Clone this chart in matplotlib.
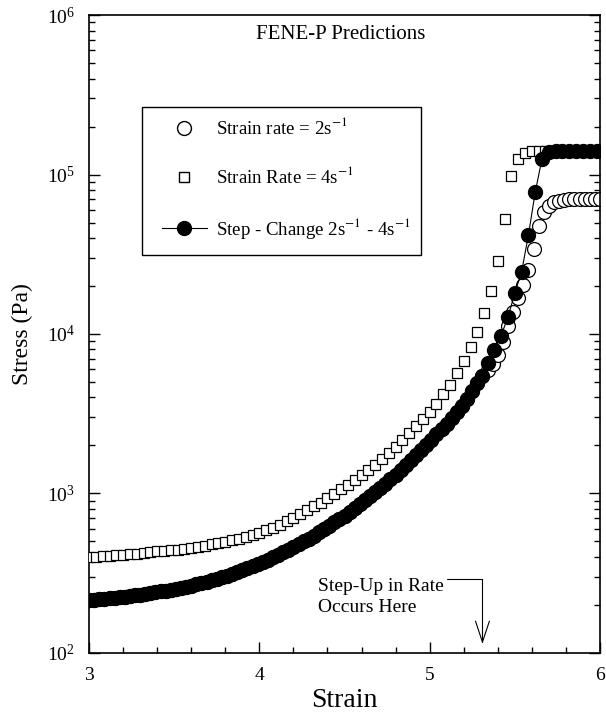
import numpy as np
import matplotlib
matplotlib.use('Agg')
import matplotlib.pyplot as plt
import matplotlib.ticker as ticker
from matplotlib.lines import Line2D
from matplotlib.patches import Rectangle

plt.rcParams['font.family'] = ['Liberation Serif', 'DejaVu Serif']
plt.rcParams['mathtext.fontset'] = 'stix'

# strain rate = 2 1/s (open circles)
strain_2 = [3.00, 3.03, 3.06, 3.09, 3.12, 3.15, 3.18, 3.21, 3.24, 3.27,
            3.30, 3.33, 3.36, 3.39, 3.42, 3.45, 3.48, 3.51, 3.54, 3.57,
            3.60, 3.63, 3.66, 3.69, 3.72, 3.75, 3.78, 3.81, 3.84, 3.87,
            3.90, 3.93, 3.96, 3.99, 4.02, 4.05, 4.08, 4.11, 4.14, 4.17,
            4.20, 4.23, 4.26, 4.29, 4.32, 4.35, 4.38, 4.41, 4.44, 4.47,
            4.50, 4.53, 4.56, 4.59, 4.62, 4.65, 4.68, 4.71, 4.74, 4.77,
            4.80, 4.83, 4.86, 4.89, 4.92, 4.95, 4.98, 5.01, 5.04, 5.07,
            5.10, 5.13, 5.16, 5.19, 5.22, 5.25, 5.28, 5.31, 5.34, 5.37,
            5.40, 5.43, 5.46, 5.49, 5.52, 5.55, 5.58, 5.61, 5.64, 5.67,
            5.70, 5.73, 5.76, 5.79, 5.82, 5.85, 5.88, 5.91, 5.94, 5.97,
            6.00]
log_stress_2 = [2.330, 2.333, 2.335, 2.338, 2.341, 2.344, 2.348, 2.351, 2.356, 2.360,
                2.364, 2.369, 2.374, 2.379, 2.385, 2.390, 2.396, 2.402, 2.409, 2.415,
                2.422, 2.430, 2.438, 2.446, 2.455, 2.465, 2.475, 2.485, 2.496, 2.508,
                2.519, 2.532, 2.544, 2.557, 2.571, 2.585, 2.599, 2.614, 2.631, 2.647,
                2.663, 2.681, 2.699, 2.717, 2.736, 2.756, 2.776, 2.796, 2.818, 2.839,
                2.861, 2.885, 2.909, 2.932, 2.957, 2.983, 3.008, 3.034, 3.062, 3.090,
                3.118, 3.148, 3.177, 3.207, 3.238, 3.270, 3.303, 3.336, 3.370, 3.402,
                3.435, 3.470, 3.510, 3.550, 3.590, 3.640, 3.690, 3.735, 3.775, 3.810,
                3.865, 3.950, 4.050, 4.140, 4.225, 4.310, 4.400, 4.530, 4.680, 4.765,
                4.805, 4.825, 4.835, 4.840, 4.845, 4.845, 4.845, 4.845, 4.845, 4.845,
                4.845]

# strain rate = 4 1/s (open squares)
strain_4 = [3.00, 3.04, 3.08, 3.12, 3.16, 3.20, 3.24, 3.28, 3.32, 3.36,
            3.40, 3.44, 3.48, 3.52, 3.56, 3.60, 3.64, 3.68, 3.72, 3.76,
            3.80, 3.84, 3.88, 3.92, 3.96, 4.00, 4.04, 4.08, 4.12, 4.16,
            4.20, 4.24, 4.28, 4.32, 4.36, 4.40, 4.44, 4.48, 4.52, 4.56,
            4.60, 4.64, 4.68, 4.72, 4.76, 4.80, 4.84, 4.88, 4.92, 4.96,
            5.00, 5.04, 5.08, 5.12, 5.16, 5.20, 5.24, 5.28, 5.32, 5.36,
            5.40, 5.44, 5.48, 5.52, 5.56, 5.60, 5.64, 5.68, 5.72, 5.76,
            5.80, 5.84, 5.88, 5.92, 5.96, 6.00]
log_stress_4 = [2.602, 2.604, 2.606, 2.609, 2.612, 2.615, 2.619, 2.622, 2.626, 2.631,
                2.636, 2.640, 2.644, 2.648, 2.654, 2.660, 2.666, 2.673, 2.680, 2.688,
                2.696, 2.705, 2.715, 2.727, 2.738, 2.750, 2.768, 2.786, 2.805, 2.826,
                2.848, 2.871, 2.894, 2.918, 2.943, 2.970, 2.998, 3.026, 3.055, 3.085,
                3.116, 3.148, 3.181, 3.215, 3.252, 3.292, 3.336, 3.382, 3.423, 3.467,
                3.511, 3.563, 3.622, 3.683, 3.753, 3.833, 3.920, 4.015, 4.130, 4.270,
                4.460, 4.720, 4.990, 5.100, 5.135, 5.147, 5.147, 5.147, 5.147, 5.147,
                5.147, 5.147, 5.147, 5.147, 5.147, 5.147]

# step change 2 -> 4 1/s (filled circles), same as rate 2 until the step
n_before = 78
strain_after = [5.34, 5.38, 5.42, 5.46, 5.50, 5.54, 5.58, 5.62, 5.66, 5.70,
                5.74, 5.78, 5.82, 5.86, 5.90, 5.94, 5.98]
log_after = [3.818, 3.900, 3.990, 4.107, 4.255, 4.390, 4.620, 4.890, 5.100, 5.140,
             5.147, 5.147, 5.147, 5.147, 5.147, 5.147, 5.147]
strain_step = strain_2[:n_before] + strain_after
log_stress_step = log_stress_2[:n_before] + log_after

step_strain = 5.31  # where the rate jumps

fig = plt.figure(figsize=(6.06, 7.19), dpi=100)
ax = fig.add_axes([0.147, 0.092, 0.843, 0.887])

ms_c = 10.0
ms_s = 6.8
ax.plot(strain_2, 10 ** np.array(log_stress_2), 'o', mfc='white', mec='black',
        ms=ms_c, mew=0.9, ls='none', zorder=2)
ax.plot(strain_4, 10 ** np.array(log_stress_4), 's', mfc='white', mec='black',
        ms=ms_s, mew=0.9, ls='none', zorder=3)
ax.plot(strain_step, 10 ** np.array(log_stress_step), 'o-', color='black',
        ms=ms_c, lw=0.8, zorder=4)

ax.set_yscale('log')
ax.set_xlim(3, 6)
ax.set_ylim(1e2, 1e6)
ax.xaxis.set_major_locator(ticker.MultipleLocator(1))
ax.xaxis.set_minor_locator(ticker.MultipleLocator(0.2))
ax.tick_params(which='both', direction='in', right=True, top=False, width=1)
ax.tick_params(which='major', length=8, labelsize=14, pad=10)
ax.tick_params(which='minor', length=4)
for s in ax.spines.values():
    s.set_linewidth(1.2)

ax.set_xlabel('Strain', fontsize=20, labelpad=3)
ax.set_ylabel('Stress (Pa)', fontsize=17, labelpad=10)

ax.text(0.493, 0.962, 'FENE-P Predictions', transform=ax.transAxes,
        ha='center', va='baseline', fontsize=15)

# legend box drawn by hand, legend entries without frame
ax.add_patch(Rectangle((0.104, 0.624), 0.545, 0.232, transform=ax.transAxes,
                       fill=True, fc='white', ec='black', lw=1.0, zorder=5))
handles = [
    Line2D([], [], marker='o', mfc='white', mec='black', ms=ms_c, ls='none'),
    Line2D([], [], marker='s', mfc='white', mec='black', ms=ms_s, ls='none'),
    Line2D([], [], marker='o', color='black', ms=ms_c, lw=0.8),
]
labels = ['Strain rate = 2s$^{-1}$', 'Strain Rate = 4s$^{-1}$',
          'Step - Change 2s$^{-1}$ - 4s$^{-1}$']
leg = ax.legend(handles, labels, loc='upper left', bbox_to_anchor=(0.143, 0.840),
                borderaxespad=0, borderpad=0, fontsize=13.6, labelspacing=1.5,
                handlelength=2.35, handletextpad=0.5, frameon=False)
leg.set_zorder(6)

ax.text(4.345, 224, 'Step-Up in Rate\nOccurs Here', ha='left', va='center',
        fontsize=14, linespacing=1.25)
ax.annotate('', xy=(step_strain, 114), xytext=(5.10, 291),
            arrowprops=dict(arrowstyle='->,head_length=1.5,head_width=0.5',
                            connectionstyle='angle,angleA=0,angleB=90,rad=0',
                            lw=0.8, color='black', shrinkA=0, shrinkB=0))

fig.savefig('out.png', dpi=100)
